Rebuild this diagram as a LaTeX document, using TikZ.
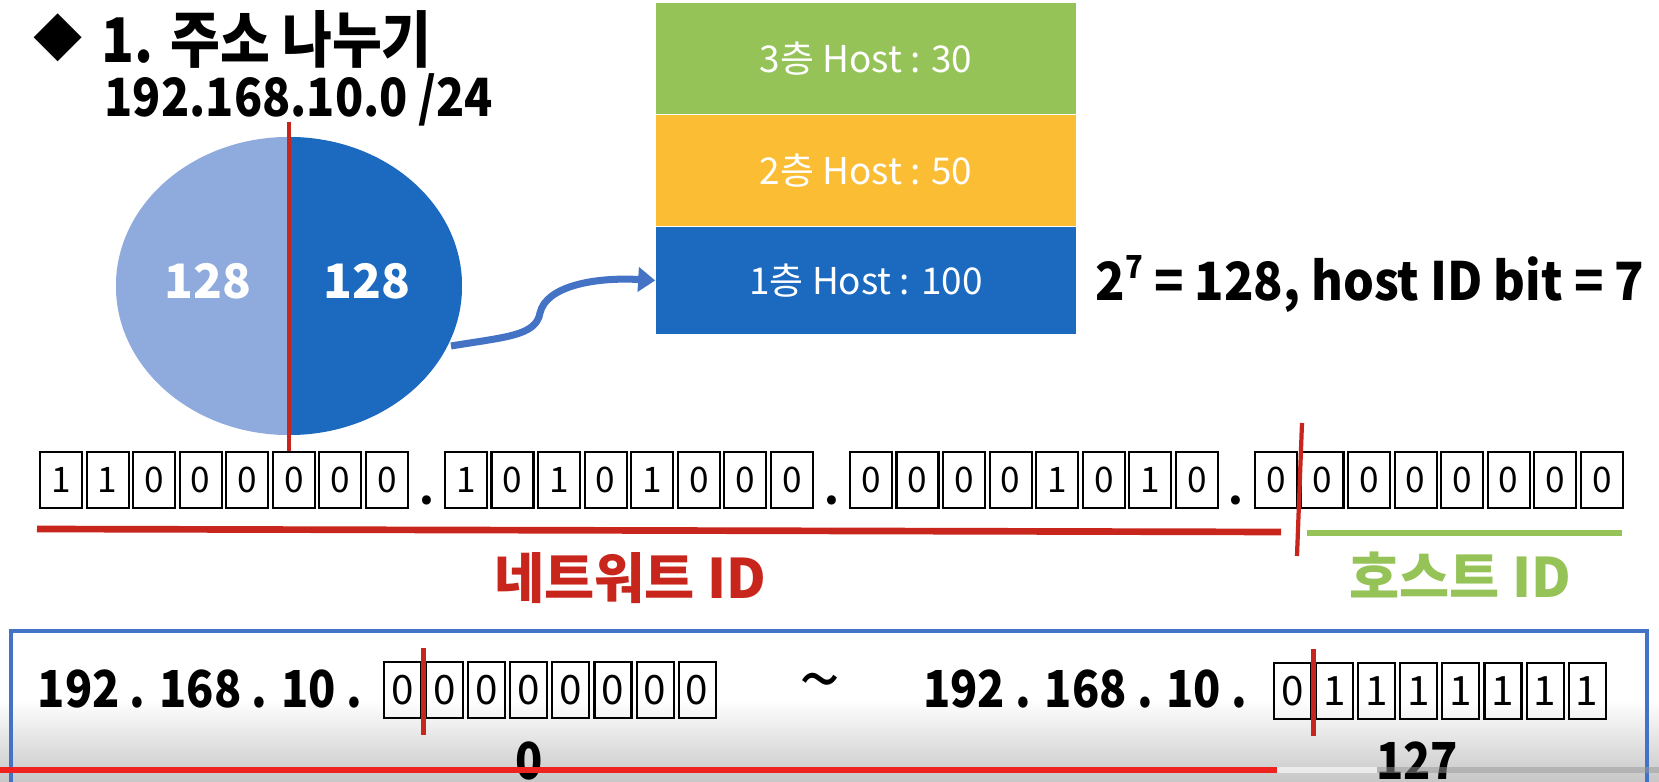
\documentclass[tikz,border=0pt]{standalone}
\usepackage{fontspec}
\setmainfont{Noto Sans CJK KR}
\usepackage{tikz}
\usetikzlibrary{arrows.meta,positioning,shapes.geometric,calc}
\definecolor{ipred}{RGB}{200,38,28}
\definecolor{ipgreen}{RGB}{149,195,88}
\definecolor{ipyellow}{RGB}{251,189,52}
\definecolor{ipblue}{RGB}{27,106,192}
\definecolor{iplight}{RGB}{143,170,220}
\definecolor{iparrow}{RGB}{68,114,196}
\definecolor{ytred}{RGB}{238,34,30}
\newcommand{\fsz}[1]{\fontsize{#1}{#1}\selectfont}
\newcommand{\narrow}[2][0.88]{\scalebox{#1}[1]{#2}}

\begin{document}
\begin{tikzpicture}[x=0.01cm,y=-0.01cm,
  bitbox/.style={draw,line width=0.6pt,minimum width=0.42cm,minimum height=0.56cm,inner sep=0pt,font=\fsz{10pt}},
  sbitbox/.style={draw,line width=0.6pt,minimum width=0.37cm,minimum height=0.56cm,inner sep=0pt,font=\fsz{11.5pt}},
  tier/.style={minimum width=4.2cm,inner sep=0pt,text=white,font=\fsz{10.5pt}},
  bigtxt/.style={inner sep=0pt,font=\fsz{14.5pt}\bfseries},
  cut/.style={ipred,line width=1.2pt}]
  \useasboundingbox (0,0) rectangle (1659,782);
  \fill[white] (0,0) rectangle (1659,782);
  \shade[top color=white,bottom color=black!22] (0,700) rectangle (1659,782);

  % title
  \node[inner sep=0pt,font=\fsz{14pt}] (bullet) at (58,38) {◆};
  \node[bigtxt,font=\fsz{17.5pt}\bfseries,anchor=base west] (title) at (101,63) {\narrow{1. 주소 나누기}};
  \node[bigtxt,font=\fsz{15pt}\bfseries,anchor=base west] (net) at (104,117) {\narrow{192.168.10.0 /24}};

  % address pool split in two halves
  \node[ellipse,minimum width=3.46cm,minimum height=2.98cm,inner sep=0pt,
    path picture={
      \fill[iplight] (path picture bounding box.south west) rectangle (path picture bounding box.north);
      \fill[ipblue] (path picture bounding box.north) rectangle (path picture bounding box.south east);
    }] (pool) at (289,286) {};
  \node[bigtxt,text=white,font=\fsz{13.5pt}\bfseries] (lhalf) at (208,281) {128};
  \node[bigtxt,text=white,font=\fsz{13.5pt}\bfseries] (rhalf) at (367,281) {128};
  \coordinate (splittop) at (289,122);
  \coordinate (splitbot) at (289,452);
  \draw[cut,line width=1.4pt] (splittop) -- (splitbot);

  % floors
  \node[tier,fill=ipgreen,minimum height=1.11cm] (tier3) at (866,58.5) {3층 Host : 30};
  \node[tier,fill=ipyellow,minimum height=1.10cm,below=0pt of tier3] (tier2) {2층 Host : 50};
  \node[tier,fill=ipblue,minimum height=1.07cm,below=0pt of tier2] (tier1) {1층 Host : 100};
  \coordinate (arr0) at (451,346);
  \draw[iparrow,line width=2pt,-{Triangle[length=0.17cm,width=0.24cm]}]
    (arr0) .. controls (505,337) and (536,336) .. (540,313)
    .. controls (546,286) and (595,277) .. (tier1.west);
  \node[bigtxt,font=\fsz{15pt}\bfseries,anchor=base west] (calc) at (1095,301)
    {\narrow[0.92]{2\raisebox{0.42em}{\fsz{9pt}7} = 128, host ID bit = 7}};

  % 32 bit address
  \foreach \v [count=\k from 0] in {1,1,0,0,0,0,0,0,1,0,1,0,1,0,0,0,0,0,0,0,1,0,1,0,0,0,0,0,0,0,0,0}{
    \pgfmathsetmacro{\bx}{61+46.57*\k+32.4*floor(\k/8)}
    \node[bitbox] (b\k) at (\bx,480) {\v};
  }
  \foreach \i/\j in {7/8,15/16,23/24}
    \node[anchor=south,inner sep=1pt,font=\fsz{12pt}\bfseries] (d\i) at ($(b\i.south east)!.5!(b\j.south west)$) {.};

  \coordinate (netL) at (37,529);
  \coordinate (netR) at (1281,532);
  \coordinate (hostL) at (1307,533);
  \coordinate (hostR) at (1622,533);
  \coordinate (divT) at (1302,423);
  \coordinate (divB) at (1297,556);
  \draw[ipred,line width=1.9pt] (netL) -- (netR);
  \draw[ipgreen,line width=1.9pt] (hostL) -- (hostR);
  \draw[cut] (divT) -- (divB);
  \node[bigtxt,text=ipred,font=\fsz{15.5pt}\bfseries] (netid) at (630,578) {네트워트 ID};
  \node[bigtxt,text=ipgreen,font=\fsz{15.5pt}\bfseries] (hostid) at (1460,575) {호스트 ID};

  % range of the first subnet
  \draw[iparrow,line width=1.1pt] (11,782) |- (1647,631) -- (1647,782);
  \node[bigtxt,anchor=base west] (lpre) at (37,708) {\narrow{192 . 168 . 10 .}};
  \foreach \v [count=\k from 0] in {0,0,0,0,0,0,0,0}
    \node[sbitbox] (lb\k) at ({402.5+42.1*\k},690) {\v};
  \node[bigtxt,font=\fsz{21pt}] (tilde) at (820,690) {\textasciitilde};
  \node[bigtxt,anchor=base east] (rpre) at (1248,708) {\narrow{192 . 168 . 10 .}};
  \foreach \v [count=\k from 0] in {0,1,1,1,1,1,1,1}
    \node[sbitbox] (rb\k) at ({1292.5+42.1*\k},691) {\v};
  \draw[cut] ($(lb0.north east)!.5!(lb1.north west)+(0,-13)$) -- ($(lb0.south east)!.5!(lb1.south west)+(0,16)$);
  \draw[cut] ($(rb0.north east)!.5!(rb1.north west)+(0,-13)$) -- ($(rb0.south east)!.5!(rb1.south west)+(0,16)$);
  \node[bigtxt,font=\fsz{14.5pt}\bfseries,anchor=base] (first) at (529,780) {\narrow{0}};
  \node[bigtxt,font=\fsz{14.5pt}\bfseries,anchor=base] (last) at (1417,780) {\narrow{127}};

  % player bar
  \draw[ytred,line width=1.5pt] (0,770) -- (1277,770);
  \draw[white,opacity=0.6,line width=1.5pt] (1277,770) -- (1377,770);
  \draw[black!40,opacity=0.5,line width=1.5pt] (1377,770) -- (1659,770);
\end{tikzpicture}
\end{document}
